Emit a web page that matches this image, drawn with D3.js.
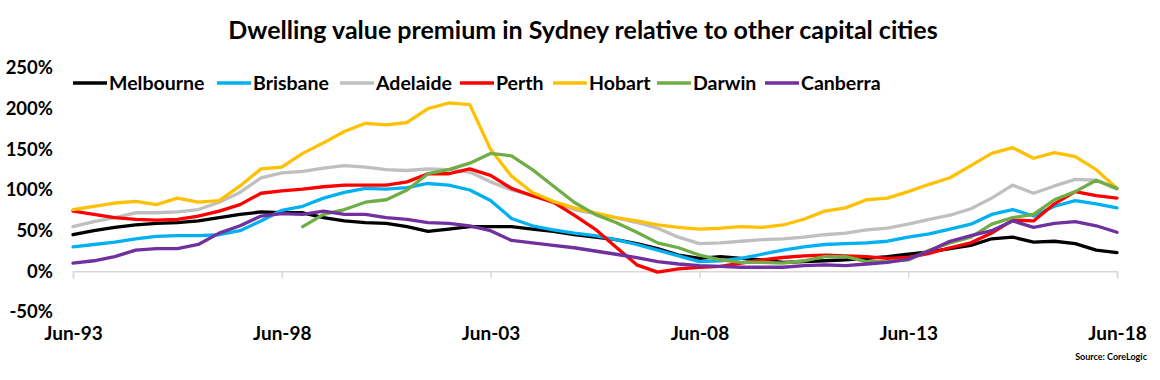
<!DOCTYPE html>
<html>
<head>
<meta charset="utf-8">
<script src="https://cdn.jsdelivr.net/npm/d3@7/dist/d3.min.js"></script>
<style>
  html, body { margin: 0; padding: 0; background: #fff; }
  svg { display: block; font-family: Lato, "Open Sans", sans-serif; }
</style>
</head>
<body>
<svg id="chart" width="1160" height="380"></svg>
<script>
// ---- data (half-yearly, Jun-93 .. Jun-18) ----
const startDate = new Date(1993, 5, 1);
const endDate = new Date(2018, 5, 1);
const periods = d3.range(51).map(i => d3.timeMonth.offset(startDate, 6 * i));

const seriesNames = ["Melbourne", "Brisbane", "Adelaide", "Perth", "Hobart", "Darwin", "Canberra"];
const seriesColors = ["#000000", "#00b0f0", "#bfbfbf", "#ff0000", "#ffc000", "#70ad47", "#7030a0"];

const melbourne = [45,50,54,57,59,60,62,66,70,73,72,72,66,62,60,59,55,49,52,55,55,55,52,49,45,42,39,34,28,20,16,18,16,14,11,12,13,14,16,18,21,24,28,32,40,42,36,37,34,26,23];
const brisbane  = [30,33,36,40,43,44,44,45,50,62,75,80,90,97,102,101,103,108,106,100,87,65,56,51,47,44,39,33,26,19,12,13,16,21,26,30,33,34,35,37,42,46,52,58,70,76,68,80,87,83,78];
const adelaide  = [55,61,66,72,72,73,76,85,97,115,121,123,127,130,128,125,124,126,125,122,110,100,93,84,76,71,66,60,53,42,34,35,37,39,40,42,45,47,51,53,58,64,69,77,90,106,96,105,113,112,101];
const perth     = [74,70,66,64,63,64,68,74,82,96,99,101,104,106,106,106,110,120,120,126,118,102,93,85,69,52,30,8,-1,3,5,6,10,14,17,19,20,19,18,16,17,22,29,35,47,63,62,83,98,93,90];
const hobart    = [76,80,84,86,82,90,85,87,105,126,128,145,158,172,182,180,183,200,207,205,150,117,97,86,78,72,66,62,57,54,52,53,55,54,57,64,74,78,88,90,98,107,115,130,145,152,139,146,141,125,102];
const darwin    = [null,null,null,null,null,null,null,null,null,null,null,55,70,76,85,88,100,120,125,133,145,142,125,105,85,70,60,48,35,29,20,14,11,11,10,13,18,18,12,12,14,26,35,42,58,66,70,88,98,112,102];
const canberra  = [10,13,18,26,28,28,33,47,56,68,71,70,74,70,70,66,64,60,59,56,50,38,35,32,29,25,21,17,12,9,7,6,5,5,5,7,8,7,9,11,15,25,37,44,50,62,54,59,61,56,48];

const yTicks = [-50, 0, 50, 100, 150, 200, 250];
const xTickLabels = ["Jun-93", "Jun-98", "Jun-03", "Jun-08", "Jun-13", "Jun-18"];

const seriesValues = [melbourne, brisbane, adelaide, perth, hobart, darwin, canberra];

// ---- chart ----
const svg = d3.select("#chart");
const x = d3.scaleTime().domain([startDate, endDate]).range([73, 1117]);
const y = d3.scaleLinear().domain([-50, 250]).range([312, 68]);

svg.append("text")
  .attr("x", 583).attr("y", 39)
  .attr("text-anchor", "middle")
  .attr("font-size", 25).attr("font-weight", 700).attr("fill", "#000")
  .text("Dwelling value premium in Sydney relative to other capital cities");

// y axis labels
const yAxis = svg.append("g").attr("transform", "translate(53,0)")
  .call(d3.axisLeft(y).tickValues(yTicks).tickSize(0).tickPadding(0).tickFormat(d => d + "%"));
yAxis.select(".domain").remove();
yAxis.selectAll("text").attr("font-size", 18.5).attr("font-weight", 700).attr("fill", "#000")
  .attr("font-family", "Lato, sans-serif");

// x axis line at zero with ticks
const tickDates = xTickLabels.map((_, i) => new Date(1993 + 5 * i, 5, 1));
const xAxis = svg.append("g").attr("transform", `translate(0,${y(0)})`)
  .call(d3.axisBottom(x).tickValues(tickDates).tickSize(7).tickFormat(""));
xAxis.select(".domain").attr("stroke", "#d9d9d9").attr("stroke-width", 1.5);
xAxis.selectAll(".tick line").attr("stroke", "#d9d9d9").attr("stroke-width", 1.5);

// x labels at bottom
const xLab = svg.append("g").attr("transform", "translate(0,326)")
  .call(d3.axisBottom(x).tickValues(tickDates).tickSize(0).tickPadding(0)
    .tickFormat((d, i) => xTickLabels[i]));
xLab.select(".domain").remove();
xLab.selectAll("text").attr("font-size", 19).attr("font-weight", 700).attr("fill", "#000")
  .attr("font-family", "Lato, sans-serif");

// lines
const line = d3.line()
  .defined(d => d.v !== null)
  .x(d => x(d.date))
  .y(d => y(d.v));

seriesNames.forEach((name, k) => {
  const data = periods.map((date, i) => ({ date, v: seriesValues[k][i] }));
  svg.append("path")
    .datum(data)
    .attr("fill", "none")
    .attr("stroke", seriesColors[k])
    .attr("stroke-width", 3.3)
    .attr("stroke-linejoin", "round")
    .attr("stroke-linecap", "round")
    .attr("d", line);
});

// legend
const legendX = [73, 217, 340, 460, 553, 657, 765];
const leg = svg.append("g");
seriesNames.forEach((name, k) => {
  const g = leg.append("g").attr("transform", `translate(${legendX[k]},83)`);
  g.append("line").attr("x1", 0).attr("x2", 34).attr("y1", 0).attr("y2", 0)
    .attr("stroke", seriesColors[k]).attr("stroke-width", 3.5);
  g.append("text").attr("x", 36).attr("y", 7)
    .attr("font-size", 19.5).attr("font-weight", 700).attr("fill", "#000")
    .text(name);
});

// source
svg.append("text")
  .attr("x", 1147).attr("y", 360)
  .attr("text-anchor", "end")
  .attr("font-size", 9).attr("font-weight", 700).attr("fill", "#000")
  .text("Source: CoreLogic");
</script>
</body>
</html>
